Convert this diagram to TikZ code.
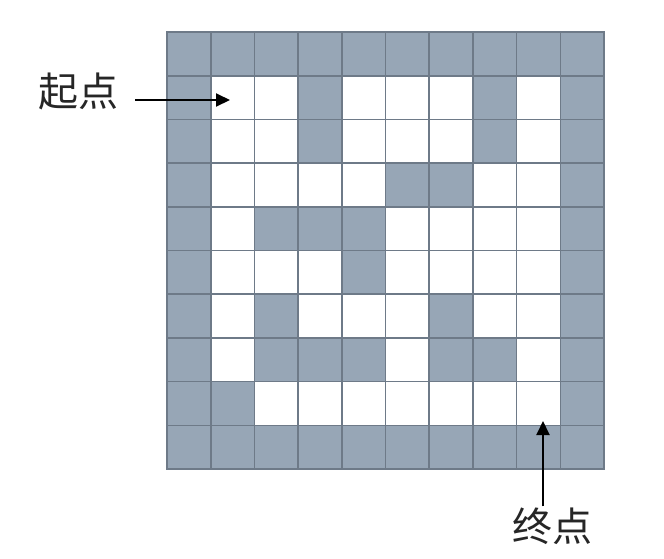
\documentclass[tikz,border=0pt]{standalone}
\usepackage{fontspec}
\newfontfamily\cjk{Noto Sans CJK SC}
\usetikzlibrary{arrows.meta}
\definecolor{wall}{RGB}{151,166,182}
\definecolor{gridline}{RGB}{110,122,136}
\begin{document}
\begin{tikzpicture}[x=1pt,y=-1pt,
  cell/.style={draw=gridline, line width=1.6pt, minimum size=43.7pt, inner sep=0pt, outer sep=0pt, anchor=north west},
  cell0/.style={fill=white},
  cell1/.style={fill=wall},
  label/.style={font=\cjk\fontsize{40}{44}\selectfont, inner sep=1pt, text=black!85},
  pointer/.style={line width=2pt, -{Triangle[length=14pt,width=13pt]}}]
\useasboundingbox (0,0) rectangle (664,558);
\foreach \r/\pattern in {
  0/{1,1,1,1,1,1,1,1,1,1},
  1/{1,0,0,1,0,0,0,1,0,1},
  2/{1,0,0,1,0,0,0,1,0,1},
  3/{1,0,0,0,0,1,1,0,0,1},
  4/{1,0,1,1,1,0,0,0,0,1},
  5/{1,0,0,0,1,0,0,0,0,1},
  6/{1,0,1,0,0,0,1,0,0,1},
  7/{1,0,1,1,1,0,1,1,0,1},
  8/{1,1,0,0,0,0,0,0,0,1},
  9/{1,1,1,1,1,1,1,1,1,1}}{
  \foreach \v [count=\c from 0] in \pattern {
    \node[cell, cell\v] (c-\r-\c) at (167+43.7*\c, 32+43.7*\r) {};
  }
}
\node[label] (start) at (78,91) {起点};
\node[label] (finish) at (552,526) {终点};
\coordinate (tipS) at (230,100);
\coordinate (tipE) at (543,421);
\draw[pointer, shorten <=16pt] (start.east |- tipS) -- (tipS);
\draw[pointer] (finish.north -| tipE) -- (tipE);
\end{tikzpicture}
\end{document}
